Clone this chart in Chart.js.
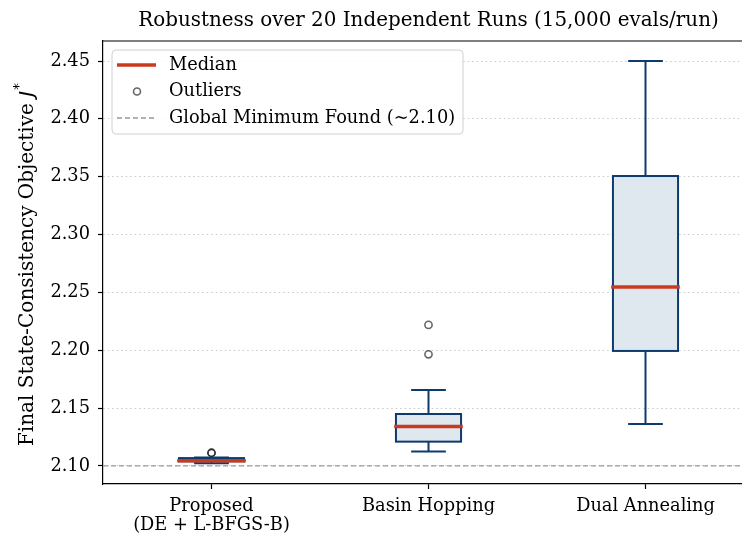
<!DOCTYPE html>
<html>
<head>
<meta charset="utf-8">
<script src="https://cdn.jsdelivr.net/npm/chart.js@4.4.0/dist/chart.umd.min.js"></script>
<style>
  html, body { margin: 0; padding: 0; background: #fff; overflow: hidden; width: 742px; height: 534px; }
  #wrap { width: 770px; height: 534px; }
</style>
</head>
<body>
<div id="wrap"><canvas id="c" width="770" height="534"></canvas></div>
<script>
// Summary statistics of the final objective over 20 runs per method
const methods = ['Proposed', 'Basin Hopping', 'Dual Annealing'];
const tickLabels = [['Proposed', '(DE + L-BFGS-B)'], 'Basin Hopping', 'Dual Annealing'];
const whiskerLow  = [2.1023, 2.1124, 2.1363];
const q1          = [2.1040, 2.1210, 2.1994];
const medians     = [2.1045, 2.1340, 2.2547];
const q3          = [2.1068, 2.1449, 2.3506];
const whiskerHigh = [2.1072, 2.1657, 2.4500];
const outliers    = [[2.1112, 2.1114], [2.1965, 2.2219], []];
const globalMin   = 2.10;
const yTicks      = [2.10, 2.15, 2.20, 2.25, 2.30, 2.35, 2.40, 2.45];
const chartTitle  = 'Robustness over 20 Independent Runs (15,000 evals/run)';

const FONT = "'DejaVu Serif', serif";
const FS = 17.8;
const BOX_EDGE = '#0d3b6e';
const BOX_FILL = '#dfe7ef';
const MEDIAN = '#cc3a1e';
const OUTLIER = 'rgba(0,0,0,0.6)';
const BOX_HALF = 0.15;
const CAP_HALF = 0.08;

const outlierPoints = [];
outliers.forEach((vals, i) => vals.forEach(v => outlierPoints.push({ x: i + 1, y: v })));

// Boxes, whiskers, caps and medians, placed through the chart's scales
const boxPlugin = {
  id: 'boxes',
  afterDatasetsDraw(chart) {
    const { ctx, scales: { x, y } } = chart;
    ctx.save();
    methods.forEach((m, i) => {
      const pos = i + 1;
      const xl = x.getPixelForValue(pos - BOX_HALF);
      const xr = x.getPixelForValue(pos + BOX_HALF);
      const xc = x.getPixelForValue(pos);
      const cl = x.getPixelForValue(pos - CAP_HALF);
      const cr = x.getPixelForValue(pos + CAP_HALF);
      const yq1 = y.getPixelForValue(q1[i]);
      const yq3 = y.getPixelForValue(q3[i]);
      const ylo = y.getPixelForValue(whiskerLow[i]);
      const yhi = y.getPixelForValue(whiskerHigh[i]);
      const ymed = y.getPixelForValue(medians[i]);

      ctx.strokeStyle = BOX_EDGE;
      ctx.lineWidth = 2;
      ctx.lineCap = 'butt';
      // whiskers and caps
      ctx.beginPath();
      ctx.moveTo(xc, yq1); ctx.lineTo(xc, ylo);
      ctx.moveTo(xc, yq3); ctx.lineTo(xc, yhi);
      ctx.moveTo(cl, ylo); ctx.lineTo(cr, ylo);
      ctx.moveTo(cl, yhi); ctx.lineTo(cr, yhi);
      ctx.stroke();
      // interquartile box
      ctx.fillStyle = BOX_FILL;
      ctx.fillRect(xl, yq3, xr - xl, yq1 - yq3);
      ctx.strokeRect(xl, yq3, xr - xl, yq1 - yq3);
      // median
      ctx.strokeStyle = MEDIAN;
      ctx.lineWidth = 3.5;
      ctx.lineCap = 'square';
      ctx.beginPath();
      ctx.moveTo(xl, ymed); ctx.lineTo(xr, ymed);
      ctx.stroke();
    });
    ctx.restore();
  }
};

// Title, top spine, rotated y-axis title and the in-plot legend
const decorPlugin = {
  id: 'decor',
  afterDraw(chart) {
    const { ctx, chartArea: a } = chart;
    ctx.save();
    // title centred over the axes
    ctx.fillStyle = '#000';
    ctx.font = `19.9px ${FONT}`;
    ctx.textAlign = 'center';
    ctx.textBaseline = 'middle';
    ctx.fillText(chartTitle, (a.left + a.right) / 2, 21);
    ctx.textAlign = 'left';

    // top spine
    ctx.strokeStyle = '#000';
    ctx.lineWidth = 1.2;
    ctx.beginPath();
    ctx.moveTo(a.left - 0.6, a.top);
    ctx.lineTo(a.right, a.top);
    ctx.stroke();

    // y-axis title with italic J and superscript star
    ctx.save();
    ctx.translate(28, 265);
    ctx.rotate(-Math.PI / 2);
    ctx.fillStyle = '#000';
    ctx.textBaseline = 'middle';
    const main = 'Final State-Consistency Objective ';
    const fMain = `20px ${FONT}`;
    const fJ = "oblique 20px 'DejaVu Sans', sans-serif";
    const fS = "14px 'DejaVu Sans', sans-serif";
    ctx.font = fMain;
    const wMain = ctx.measureText(main).width;
    ctx.font = fJ;
    const wJ = ctx.measureText('J').width;
    ctx.font = fS;
    const wS = ctx.measureText('*').width;
    let sx = -(wMain + wJ + wS) / 2;
    ctx.font = fMain;
    ctx.fillText(main, sx, 0);
    sx += wMain;
    ctx.font = fJ;
    ctx.fillText('J', sx, 0);
    sx += wJ + 1;
    ctx.font = fS;
    ctx.fillText('*', sx, -9);
    ctx.restore();

    // legend frame
    const lx = 112, ly = 50, lw = 351, lh = 84, r = 4;
    ctx.beginPath();
    ctx.moveTo(lx + r, ly);
    ctx.arcTo(lx + lw, ly, lx + lw, ly + lh, r);
    ctx.arcTo(lx + lw, ly + lh, lx, ly + lh, r);
    ctx.arcTo(lx, ly + lh, lx, ly, r);
    ctx.arcTo(lx, ly, lx + lw, ly, r);
    ctx.closePath();
    ctx.fillStyle = 'rgba(255,255,255,0.85)';
    ctx.fill();
    ctx.strokeStyle = '#d0d0d0';
    ctx.lineWidth = 1;
    ctx.stroke();

    const rows = [65, 91.5, 118];
    // median handle
    ctx.strokeStyle = MEDIAN;
    ctx.lineWidth = 3.5;
    ctx.lineCap = 'butt';
    ctx.beginPath(); ctx.moveTo(117, rows[0]); ctx.lineTo(156, rows[0]); ctx.stroke();
    // outlier handle
    ctx.strokeStyle = '#666';
    ctx.lineWidth = 1.6;
    ctx.beginPath(); ctx.arc(137, rows[1], 3.5, 0, Math.PI * 2); ctx.stroke();
    // reference line handle
    ctx.strokeStyle = '#999';
    ctx.lineWidth = 1.3;
    ctx.setLineDash([5, 3]);
    ctx.beginPath(); ctx.moveTo(117, rows[2]); ctx.lineTo(156, rows[2]); ctx.stroke();
    ctx.setLineDash([]);

    ctx.fillStyle = '#000';
    ctx.font = `${FS}px ${FONT}`;
    ctx.textBaseline = 'middle';
    ctx.fillText('Median', 169, rows[0]);
    ctx.fillText('Outliers', 169, rows[1]);
    ctx.fillText('Global Minimum Found (~2.10)', 169, rows[2]);
    ctx.restore();
  }
};

new Chart(document.getElementById('c'), {
  type: 'scatter',
  data: {
    datasets: [
      {
        label: 'Global Minimum Found (~2.10)',
        type: 'line',
        data: [{ x: 0.5, y: globalMin }, { x: 3.5, y: globalMin }],
        borderColor: '#999',
        borderWidth: 1.3,
        borderDash: [5, 3],
        pointRadius: 0,
        fill: false
      },
      {
        label: 'Outliers',
        data: outlierPoints,
        pointStyle: 'circle',
        pointRadius: 3.6,
        pointBorderWidth: 1.6,
        pointBorderColor: OUTLIER,
        pointBackgroundColor: 'rgba(0,0,0,0)'
      }
    ]
  },
  options: {
    responsive: false,
    animation: false,
    devicePixelRatio: 1,
    layout: { padding: { left: 0, right: 16, top: 41, bottom: 0 } },
    plugins: {
      legend: { display: false },
      tooltip: { enabled: false },
      title: { display: false }
    },
    scales: {
      x: {
        type: 'linear',
        min: 0.5,
        max: 3.5,
        afterFit(s) { s.height = 50; },
        afterBuildTicks(s) { s.ticks = methods.map((m, i) => ({ value: i + 1 })); },
        ticks: {
          color: '#000',
          font: { family: FONT, size: FS, lineHeight: 1.07 },
          padding: 8,
          maxRotation: 0,
          autoSkip: false,
          callback: (v) => tickLabels[v - 1]
        },
        grid: { drawOnChartArea: false, drawTicks: true, tickLength: 5, tickColor: '#000', tickWidth: 1.2 },
        border: { display: true, color: '#000', width: 1.2 }
      },
      y: {
        type: 'linear',
        min: 2.0844,
        max: 2.4673,
        afterFit(s) { s.width = 103; },
        afterBuildTicks(s) { s.ticks = yTicks.map(v => ({ value: v })); },
        ticks: {
          color: '#000',
          font: { family: FONT, size: FS },
          padding: 8,
          callback: (v) => v.toFixed(2)
        },
        grid: { color: '#c8c8c8', lineWidth: 1, drawTicks: true, tickLength: 5, tickColor: '#000', tickWidth: 1.2, tickBorderDash: [] },
        border: { display: true, color: '#000', width: 1.2, dash: [1.5, 3] }
      }
    }
  },
  plugins: [boxPlugin, decorPlugin]
});
</script>
</body>
</html>
